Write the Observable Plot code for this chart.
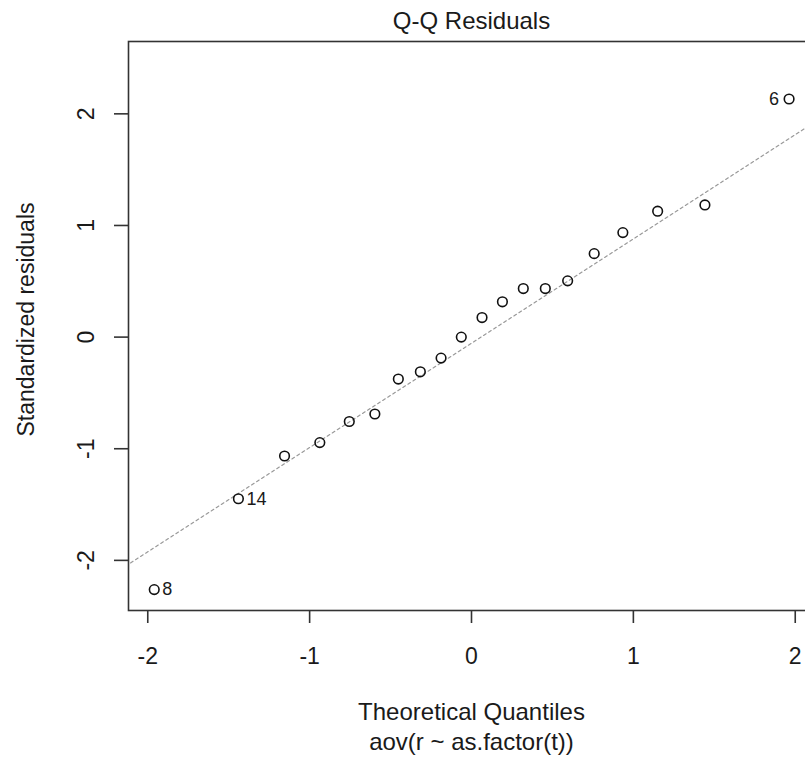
<!DOCTYPE html>
<html>
<head>
<meta charset="utf-8">
<script src="https://cdn.jsdelivr.net/npm/d3@7"></script>
<script src="https://cdn.jsdelivr.net/npm/@observablehq/plot@0.6"></script>
<style>
  html, body { margin: 0; padding: 0; background: #fff; overflow: hidden; }
  #chart svg { max-width: none !important; display: block; }
</style>
</head>
<body>
<div id="chart"></div>
<script>
// Theoretical normal quantiles (x) and standardized residuals (y)
const theoretical = [-1.96, -1.44, -1.155, -0.937, -0.755, -0.597, -0.452, -0.316, -0.188, -0.063,
                     0.065, 0.191, 0.32, 0.456, 0.594, 0.758, 0.935, 1.15, 1.442, 1.962];
const residuals   = [-2.262, -1.448, -1.065, -0.945, -0.756, -0.689, -0.376, -0.311, -0.188, 0.0,
                     0.175, 0.316, 0.435, 0.435, 0.504, 0.748, 0.936, 1.128, 1.184, 2.133];

// Labelled observations (index into arrays above), their text and side
const labelIndex = [0, 1, 19];
const labelText  = ["8", "14", "6"];
const labelSide  = ["right", "right", "left"];

// Reference (qqline) end points
const lineX = [-2.2, 2.2];
const lineY = [-2.11, 2.0];

// Axis ticks
const xTicks = [-2, -1, 0, 1, 2];
const yTicks = [-2, -1, 0, 1, 2];

const titleText = "Q-Q Residuals";
const xLabel1 = "Theoretical Quantiles";
const xLabel2 = "aov(r ~ as.factor(t))";
const yLabel = "Standardized residuals";

const points = theoretical.map((x, i) => ({x, y: residuals[i]}));
const labels = labelIndex.map((k, i) => ({x: theoretical[k], y: residuals[k], t: labelText[i], side: labelSide[i]}));
const qqline = lineX.map((x, i) => ({x, y: lineY[i]}));

const FONT = "'Liberation Sans', Arial, Helvetica, sans-serif";
const INK = "#1a1a1a";

const chart = Plot.plot({
  width: 820,
  height: 758,
  marginLeft: 128,
  marginRight: 6,
  marginTop: 41,
  marginBottom: 148,
  x: {domain: [-2.119, 2.119]},
  y: {domain: [-2.449, 2.648]},
  style: {fontFamily: FONT, color: INK, background: "#fff", maxWidth: "none", overflow: "visible"},
  marks: [
    Plot.line(qqline, {x: "x", y: "y", stroke: "#999", strokeWidth: 1.2, strokeDasharray: "3,3", clip: true}),
    Plot.dot(points, {x: "x", y: "y", r: 4.8, stroke: "#111", strokeWidth: 1.6, fill: "none"}),
    Plot.text(labels.filter(d => d.side === "right"), {x: "x", y: "y", text: "t", dx: 8, textAnchor: "start", lineAnchor: "middle", fontSize: 18, fill: INK}),
    Plot.text(labels.filter(d => d.side === "left"), {x: "x", y: "y", text: "t", dx: -10, textAnchor: "end", lineAnchor: "middle", fontSize: 18, fill: INK}),
    Plot.frame({stroke: "#333", strokeWidth: 1.6}),
    Plot.axisX(xTicks, {tickSize: 13, tickPadding: 24, fontSize: 23, tickFormat: d => String(d), color: INK, stroke: "#333", strokeWidth: 1.6, label: null}),
    Plot.axisY(yTicks, {tickSize: 14, tickFormat: () => "", stroke: "#333", strokeWidth: 1.6, label: null}),
    Plot.text(yTicks, {y: d => d, text: d => String(d), frameAnchor: "left", dx: -35, rotate: -90, textAnchor: "middle", lineAnchor: "bottom", fontSize: 23, fill: INK}),
    Plot.text([titleText], {text: d => d, frameAnchor: "top", dy: -13, lineAnchor: "bottom", textAnchor: "middle", fontSize: 24, fill: INK}),
    Plot.text([xLabel1], {text: d => d, frameAnchor: "bottom", dy: 109, lineAnchor: "bottom", textAnchor: "middle", fontSize: 24, fill: INK}),
    Plot.text([xLabel2], {text: d => d, frameAnchor: "bottom", dy: 139, lineAnchor: "bottom", textAnchor: "middle", fontSize: 24, fill: INK}),
    Plot.text([yLabel], {text: d => d, frameAnchor: "left", dx: -95, dy: -6.5, rotate: -90, lineAnchor: "bottom", textAnchor: "middle", fontSize: 23, fill: INK})
  ]
});
document.getElementById("chart").appendChild(chart);
</script>
</body>
</html>
